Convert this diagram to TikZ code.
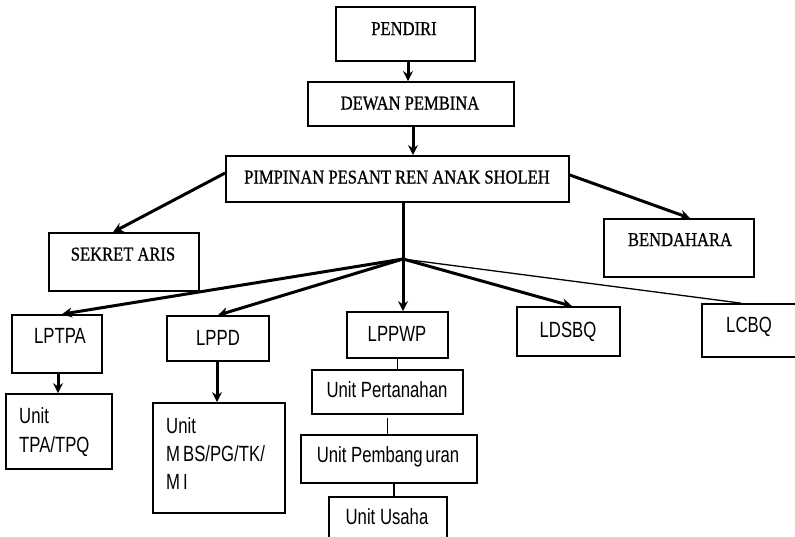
\documentclass[tikz,border=0pt]{standalone}
\usepackage{fontspec}
\usetikzlibrary{arrows.meta,calc}
\newfontfamily\cserif[FakeStretch=0.85,FakeBold=0.8]{Liberation Serif}
\newfontfamily\csans[FakeStretch=0.76]{Liberation Sans}
\begin{document}
\begin{tikzpicture}[x=1pt,y=-1pt,
  box/.style={draw, line width=1.7pt, rectangle, inner sep=0pt},
  st/.style={font=\cserif\fontsize{19.5}{19.5}\selectfont, inner sep=0pt, text height=13pt, text depth=0pt},
  ss/.style={font=\csans\fontsize{22}{22}\selectfont, inner sep=0pt, text height=15.5pt, text depth=0pt},
  ssm/.style={font=\csans\fontsize{22}{28}\selectfont, inner sep=0pt, align=left, anchor=north west},
  arr/.style={line width=3pt, -{Stealth[length=10pt,width=10pt]}},
  thinline/.style={line width=1.3pt}]
\clip (0,0) rectangle (795,536);
% boxes
\node[box, minimum width=139pt, minimum height=54pt] (pendiri) at (405.5,34) {};
\node[box, minimum width=206pt, minimum height=44pt] (dewan) at (411,104) {};
\node[box, minimum width=343pt, minimum height=46pt] (pimpinan) at (397.5,179) {};
\node[box, minimum width=150pt, minimum height=58pt] (sekretaris) at (124,262) {};
\node[box, minimum width=150pt, minimum height=58pt] (bendahara) at (679,248) {};
\node[box, minimum width=90pt, minimum height=58pt] (lptpa) at (57,344) {};
\node[box, minimum width=102pt, minimum height=45pt] (lppd) at (218,338.5) {};
\node[box, minimum width=101pt, minimum height=46pt] (lppwp) at (397.5,335) {};
\node[box, minimum width=103pt, minimum height=49pt] (ldsbq) at (568.5,331.5) {};
\node[box, minimum width=118pt, minimum height=53pt] (lcbq) at (761,330.5) {};
\node[box, minimum width=106pt, minimum height=75pt] (unittpa) at (59,431.5) {};
\node[box, minimum width=132pt, minimum height=110pt] (unitmbs) at (219,458) {};
\node[box, minimum width=151pt, minimum height=44pt] (pertanahan) at (387.5,392) {};
\node[box, minimum width=176pt, minimum height=48pt] (pembangunan) at (389,459) {};
\node[box, minimum width=118pt, minimum height=53pt] (usaha) at (388,523.5) {};
% texts
\node[st] (t-pendiri) at (404,28.5) {PENDIRI};
\node[st] (t-dewan) at (410,103) {DEWAN PEMBINA};
\node[st] (t-pimpinan) at (397,177) {PIMPINAN PESANT\kern4pt REN ANAK SHOLEH};
\node[st] (t-sekretaris) at (123,254) {SEKRET\kern4pt ARIS};
\node[st] (t-bendahara) at (680,239.5) {BENDAHARA};
\node[ss] (t-lptpa) at (60,336) {LPTPA};
\node[ss] (t-lppd) at (218,337.5) {LPPD};
\node[ss] (t-lppwp) at (397,333.5) {LPPWP};
\node[ss] (t-ldsbq) at (568,330) {LDSBQ};
\node[ss] (t-lcbq) at (749,325) {LCBQ};
\node[ss] (t-pertanahan) at (387,390) {Unit Pertanahan};
\node[ss] (t-pembangunan) at (388,455) {Unit Pembang\kern3pt uran};
\node[ss] (t-usaha) at (387,517) {Unit Usaha};
\node[ssm, font=\csans\fontsize{22}{29.5}\selectfont] (t-unittpa) at (19,407) {Unit\\TPA/TPQ};
\node[ssm] (t-unitmbs) at (166,417) {Unit\\M\kern3pt BS/PG/TK/\\M\kern3pt I};
% connectors
\coordinate (hub) at (403,259);
\draw[arr] ([xshift=2.5pt]pendiri.south) -- ([xshift=2.5pt]pendiri.south |- dewan.north);
\draw[arr] ([xshift=2pt]dewan.south) -- ([xshift=2pt]dewan.south |- pimpinan.north);
\draw[arr] ([yshift=6pt]pimpinan.west) -- ([xshift=-11pt]sekretaris.north);
\draw[arr] ([yshift=4pt]pimpinan.east) -- ([xshift=11pt]bendahara.north);
\draw[line width=3pt] (hub |- pimpinan.south) -- (hub);
\draw[arr] (hub) -- ([xshift=5pt]lptpa.north);
\draw[arr] (hub) -- (lppd.north);
\draw[arr] (hub) -- (hub |- lppwp.north);
\draw[arr] (hub) -- ([xshift=3.5pt]ldsbq.north);
\draw[thinline] (hub) -- ([xshift=40pt]lcbq.north west);
\draw[arr] ([xshift=1pt]lptpa.south) -- ([xshift=1pt]lptpa.south |- unittpa.north);
\draw[arr] ([xshift=-1pt]lppd.south) -- ([xshift=-1pt]lppd.south |- unitmbs.north);
\draw[thinline] (lppwp.south) -- (lppwp.south |- pertanahan.north);
\draw[thinline] ([yshift=-3pt]pertanahan.south) -- (pertanahan.south |- pembangunan.north);
\draw[thinline] ([xshift=5pt]pembangunan.south) -- ([xshift=5pt]pembangunan.south |- usaha.north);
\end{tikzpicture}
\end{document}
